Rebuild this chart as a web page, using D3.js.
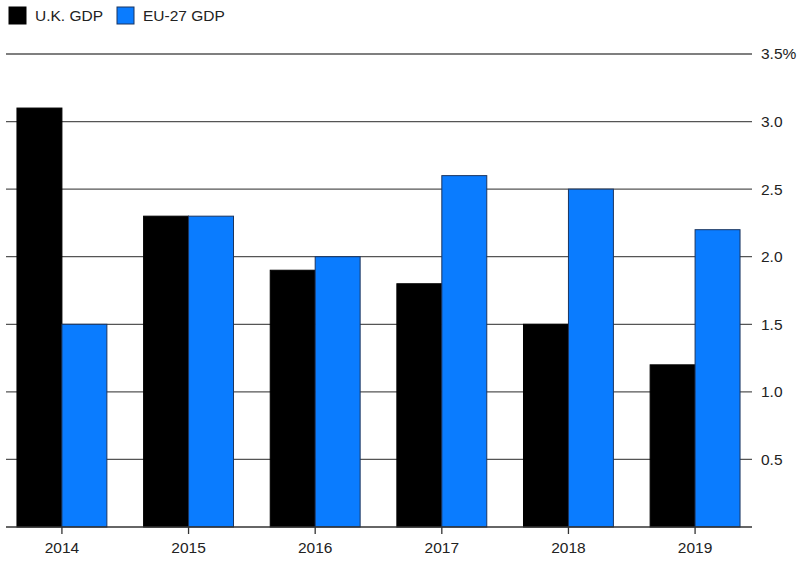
<!DOCTYPE html>
<html><head><meta charset="utf-8">
<script src="https://cdn.jsdelivr.net/npm/d3@7"></script>
<style>body{margin:0;background:#fff;} svg{display:block;font-family:"Liberation Sans",Arial,sans-serif;}</style>
</head><body>
<svg id="c" width="806" height="564"></svg>
<script>
const years = ["2014","2015","2016","2017","2018","2019"];
const ukGDP = [3.1, 2.3, 1.9, 1.8, 1.5, 1.2];
const euGDP = [1.5, 2.3, 2.0, 2.6, 2.5, 2.2];
const seriesNames = ["U.K. GDP","EU-27 GDP"];
const seriesColors = ["#000000","#0a7cff"];
const yTicks = [0.5,1.0,1.5,2.0,2.5,3.0,3.5];

const svg = d3.select("#c");
const x0 = d3.scaleBand().domain(years).range([4.3, 752.7]).paddingInner(0.29).paddingOuter(0.1);
const x1 = d3.scaleBand().domain(seriesNames).range([0, x0.bandwidth()]);
const y = d3.scaleLinear().domain([0, 3.5]).range([527, 54]);
const gridX0 = 6, gridX1 = 752;
const fs = 15.5;

// gridlines
svg.append("g").selectAll("line").data(yTicks).join("line")
  .attr("x1", gridX0).attr("x2", gridX1)
  .attr("y1", d => y(d)).attr("y2", d => y(d))
  .attr("stroke", "#555").attr("stroke-width", 1.3);

// bars
const data = years.map((yr, i) => ({yr, vals: [ukGDP[i], euGDP[i]]}));
const g = svg.append("g").selectAll("g").data(data).join("g")
  .attr("transform", d => `translate(${x0(d.yr)},0)`);
g.selectAll("rect").data(d => d.vals.map((v, j) => ({v, s: seriesNames[j], c: seriesColors[j]})))
  .join("rect")
  .attr("x", d => x1(d.s)).attr("width", x1.bandwidth())
  .attr("y", d => y(d.v)).attr("height", d => y(0) - y(d.v))
  .attr("fill", d => d.c)
  .attr("stroke", d => d.c === "#000000" ? "#000" : "#1b3560").attr("stroke-width", 1);

// y axis labels (right)
svg.append("g").selectAll("text").data(yTicks).join("text")
  .attr("x", 761).attr("y", d => y(d)).attr("dy", "0.35em")
  .attr("font-size", fs).attr("fill", "#222")
  .text(d => d === 3.5 ? "3.5%" : d3.format(".1f")(d));

// x axis
const xAxis = d3.axisBottom(x0).tickSize(7).tickSizeOuter(0).tickPadding(8);
const ax = svg.append("g").attr("transform", `translate(0,${y(0)})`).call(xAxis);
ax.select(".domain").remove();
ax.selectAll(".tick line").attr("stroke", "#333").attr("stroke-width", 1.3);
ax.selectAll(".tick text").attr("font-size", fs).attr("fill", "#222").attr("font-family", "Liberation Sans, Arial, sans-serif");
svg.append("line").attr("x1", gridX0).attr("x2", gridX1).attr("y1", y(0)).attr("y2", y(0))
  .attr("stroke", "#333").attr("stroke-width", 1.3);

// legend
const legX = [9, 117];
const lg = svg.append("g").selectAll("g").data(seriesNames).join("g")
  .attr("transform", (d, i) => `translate(${legX[i]},7)`);
lg.append("rect").attr("width", 17).attr("height", 17)
  .attr("fill", (d, i) => seriesColors[i])
  .attr("stroke", (d, i) => i === 0 ? "#000" : "#1b3560");
lg.append("text").attr("x", 26).attr("y", 9).attr("dy", "0.35em")
  .attr("font-size", fs).attr("fill", "#222").text(d => d);
</script>
</body></html>
